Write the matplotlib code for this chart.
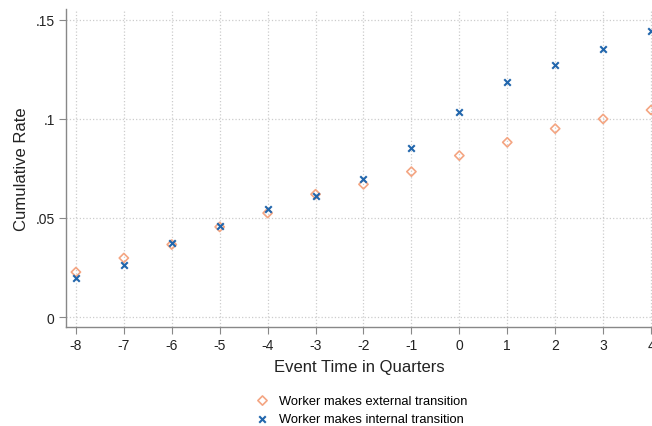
import numpy as np
import matplotlib.pyplot as plt

plt.rcParams['font.family'] = ['Liberation Sans', 'DejaVu Sans']

quarters = [-8, -7, -6, -5, -4, -3, -2, -1, 0, 1, 2, 3, 4]
external = [0.0227, 0.0298, 0.0366, 0.0455, 0.0525, 0.0620, 0.0670, 0.0734,
            0.0815, 0.0882, 0.0951, 0.1000, 0.1045]
internal = [0.0199, 0.0264, 0.0372, 0.0461, 0.0544, 0.0610, 0.0698, 0.0855,
            0.1034, 0.1185, 0.1270, 0.1355, 0.1444]
yticks = [0, 0.05, 0.1, 0.15]
ytick_labels = ['0', '.05', '.1', '.15']

fig = plt.figure(figsize=(6.52, 4.27), dpi=100)
ax = fig.add_axes([0.101, 0.232, 0.899, 0.745])

ax.scatter(quarters, external, marker='D', s=22, facecolors='none',
           edgecolors='#F4A582', linewidths=1.2,
           label='Worker makes external transition', zorder=3, clip_on=False)
ax.scatter(quarters, internal, marker='x', s=22, color='#2166AC',
           linewidths=1.5, label='Worker makes internal transition',
           zorder=4, clip_on=False)

ax.set_xlim(-8.21, 4.02)
ax.set_ylim(-0.005, 0.1556)
ax.set_xticks(quarters)
ax.set_xticklabels([str(q) for q in quarters])
ax.set_yticks(yticks)
ax.set_yticklabels(ytick_labels)

ax.grid(True, linestyle=':', color='#cccccc', linewidth=0.9)
ax.set_axisbelow(True)
for side in ['top', 'right']:
    ax.spines[side].set_visible(False)
for side in ['left', 'bottom']:
    ax.spines[side].set_color('#888888')
    ax.spines[side].set_linewidth(1.0)
ax.tick_params(axis='both', direction='out', length=5, color='#888888',
               labelsize=10, labelcolor='#222222', pad=3)

ax.set_xlabel('Event Time in Quarters', fontsize=12, color='#222222', labelpad=5)
ax.set_ylabel('Cumulative Rate', fontsize=12, color='#222222', labelpad=5)

fig.legend(loc='upper center', bbox_to_anchor=(0.55, 0.094), ncol=1,
           frameon=False, fontsize=9.3, handletextpad=0.3, labelspacing=0.5,
           scatterpoints=1, borderpad=0.2)

fig.savefig('out.png', dpi=100)
